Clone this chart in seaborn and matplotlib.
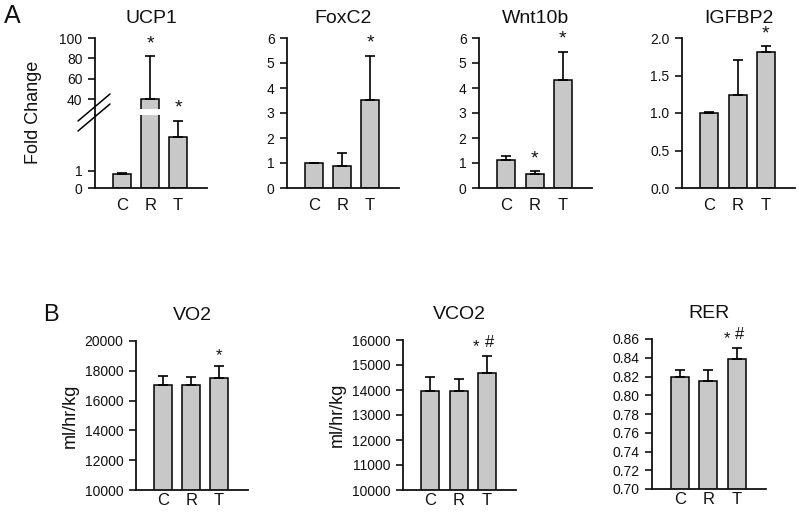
import matplotlib
matplotlib.use('Agg')
import matplotlib.pyplot as plt
import matplotlib.ticker as mticker
from matplotlib.lines import Line2D
import seaborn as sns

# data (bar = mean, err = upper error bar length)
groups = ['C', 'R', 'T']

ucp1_mean = [0.81, 40.0, 3.0]
ucp1_err = [0.09, 42.0, 0.96]
ucp1_sig = ['', '*', '*']

foxc2_mean = [1.0, 0.9, 3.52]
foxc2_err = [0.02, 0.5, 1.78]
foxc2_sig = ['', '', '*']

wnt10b_mean = [1.12, 0.55, 4.33]
wnt10b_err = [0.16, 0.12, 1.12]
wnt10b_sig = ['', '*', '*']

igfbp2_mean = [1.0, 1.24, 1.82]
igfbp2_err = [0.01, 0.47, 0.07]
igfbp2_sig = ['', '', '*']

vo2_mean = [17020, 17080, 17520]
vo2_err = [660, 520, 780]

vco2_mean = [13970, 13950, 14670]
vco2_err = [560, 510, 700]

rer_mean = [0.820, 0.8155, 0.839]
rer_err = [0.0073, 0.011, 0.0114]

sns.set_style('ticks')
plt.rcParams['font.family'] = ['Liberation Sans', 'DejaVu Sans']
plt.rcParams['axes.linewidth'] = 1.3
for k in ('text.color', 'axes.labelcolor', 'xtick.color', 'ytick.color', 'axes.edgecolor'):
    plt.rcParams[k] = '#111111'

W, H = 799, 515
fig = plt.figure(figsize=(W / 100, H / 100), dpi=100)


def rect(x0, x1, ytop, ybot):
    return [x0 / W, 1 - ybot / H, (x1 - x0) / W, (ybot - ytop) / H]


BAR = '#c8c8c8'


def bars(ax, mean, err, xpad):
    sns.barplot(x=groups, y=mean, ax=ax, color=BAR, saturation=1,
                edgecolor='black', linewidth=1.1, width=0.64, errorbar=None)
    ax.errorbar(range(len(groups)), mean, yerr=[[0] * len(err), err],
                fmt='none', ecolor='black', elinewidth=1.2, capsize=3.5,
                capthick=1.2, zorder=1)
    ax.set_xlim(-0.97, 3.03)
    ax.patch.set_alpha(0)
    sns.despine(ax=ax)
    ax.tick_params(axis='y', length=5, width=1.2, pad=4, labelsize=10)
    ax.tick_params(axis='x', length=0, pad=xpad, labelsize=12)
    ax.set_xlabel('')


def stars(ax, mean, err, sig, dy=3, size=14):
    for i, s in enumerate(sig):
        if s:
            ax.annotate(s, (i, mean[i] + err[i]), xytext=(0, dy),
                        textcoords='offset points', ha='center', va='bottom',
                        fontsize=size, annotation_clip=False, zorder=5)


# ---- A: UCP1 with broken axis ----
low = fig.add_axes(rect(95, 207, 115, 188))
up = fig.add_axes(rect(95, 207, 38, 109))
bars(low, ucp1_mean, ucp1_err, 7)
bars(up, ucp1_mean, ucp1_err, 7)
low.set_ylim(0, 4.29)
low.set_yticks([0, 1])
up.set_ylim(30.2, 100)
up.set_yticks([40, 60, 80, 100])
up.spines['bottom'].set_visible(False)
up.tick_params(axis='x', labelbottom=False)
up.spines['left'].set_bounds(24, 100)
up.set_title('UCP1', fontsize=14, pad=11)
low.set_ylabel('Fold Change', fontsize=13)
low.yaxis.set_label_coords(-0.47, 1.04)
stars(up, ucp1_mean[:2], ucp1_err[:2], ucp1_sig[:2])
stars(low, ucp1_mean, ucp1_err, ['', '', ucp1_sig[2]])
for dy in (0, 10):
    fig.add_artist(Line2D([78 / W, 110 / W], [1 - (121 + dy) / H, 1 - (94 + dy) / H],
                          color='black', lw=1.1))

panels = [
    ('FoxC2', foxc2_mean, foxc2_err, foxc2_sig, (287, 399), 6, 1),
    ('Wnt10b', wnt10b_mean, wnt10b_err, wnt10b_sig, (479, 592), 6, 1),
    ('IGFBP2', igfbp2_mean, igfbp2_err, igfbp2_sig, (682, 795), 2.0, 0.5),
]
for title, m, e, sg, (x0, x1), top, step in panels:
    ax = fig.add_axes(rect(x0, x1, 38, 188))
    bars(ax, m, e, 7)
    ax.set_ylim(0, top)
    n = int(round(top / step))
    ax.set_yticks([k * step for k in range(n + 1)])
    if step < 1:
        ax.yaxis.set_major_formatter(mticker.FormatStrFormatter('%.1f'))
    ax.set_title(title, fontsize=14, pad=11)
    stars(ax, m, e, sg)

fig.text(12 / W, 1 - 16 / H, 'A', fontsize=18, ha='center', va='center')
fig.text(51 / W, 1 - 315 / H, 'B', fontsize=17, ha='center', va='center')

# ---- B: metabolic cages ----
ax = fig.add_axes(rect(136, 248, 341, 490))
bars(ax, vo2_mean, vo2_err, 2)
ax.set_ylim(10000, 20000)
ax.set_yticks(range(10000, 20001, 2000))
ax.set_title('VO2', fontsize=14, pad=15)
ax.set_ylabel('ml/hr/kg', fontsize=13, labelpad=4)
stars(ax, vo2_mean, vo2_err, ['', '', '*'], dy=2, size=12)

ax = fig.add_axes(rect(403, 516, 340, 490))
bars(ax, vco2_mean, vco2_err, 2)
ax.set_ylim(10000, 16000)
ax.set_yticks(range(10000, 16001, 1000))
ax.set_title('VCO2', fontsize=14, pad=15)
ax.set_ylabel('ml/hr/kg', fontsize=13, labelpad=4)
for s, dx, dy in (('*', -8, 1), ('#', 2, 4)):
    ax.annotate(s, (2, vco2_mean[2] + vco2_err[2]), xytext=(dx, dy),
                textcoords='offset points', ha='center', va='bottom', fontsize=12)

ax = fig.add_axes(rect(652, 766, 339, 489))
bars(ax, rer_mean, rer_err, 2)
ax.set_ylim(0.70, 0.86)
ax.set_yticks([0.70 + 0.02 * k for k in range(9)])
ax.yaxis.set_major_formatter(mticker.FormatStrFormatter('%.2f'))
ax.set_title('RER', fontsize=14, pad=15)
for s, dx, dy in (('*', -7, 1), ('#', 2, 4)):
    ax.annotate(s, (2, rer_mean[2] + rer_err[2]), xytext=(dx, dy),
                textcoords='offset points', ha='center', va='bottom', fontsize=12)

fig.savefig('out.png', dpi=100)
